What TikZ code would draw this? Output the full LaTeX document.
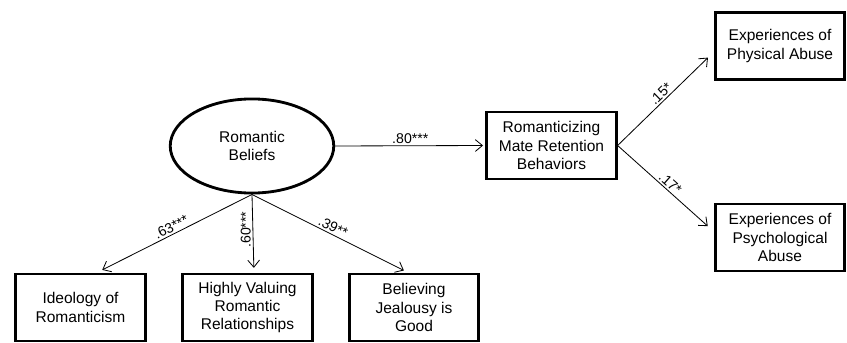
\documentclass[tikz,border=0pt]{standalone}
\usepackage{fontspec}
\setmainfont{Liberation Sans}
\usetikzlibrary{shapes.geometric,arrows.meta}

\tikzset{
  box/.style={draw,line width=2.4pt,minimum width=110pt,minimum height=57pt,inner sep=1pt,align=center,font=\fontsize{13.2}{15.6}\selectfont},
  latent/.style={draw,ellipse,line width=2.4pt,minimum width=139pt,minimum height=80pt,inner sep=0pt,align=center,font=\fontsize{13.2}{15.6}\selectfont},
  path/.style={-{Straight Barb[length=6pt,width=10pt]},line width=0.7pt},
  coef/.style={font=\fontsize{12}{13}\selectfont,inner sep=1.5pt}
}

\begin{document}
\begin{tikzpicture}[x=0.85pt,y=-0.85pt]
\useasboundingbox (0,0) rectangle (847,343);
% latent factor and indicators
\node[latent] (rb) at (252,146) {Romantic\\Beliefs};
\node[box] (ideo) at (80.5,307.5) {Ideology of\\Romanticism};
\node[box] (hv) at (247.5,307.5) {Highly Valuing\\Romantic\\Relationships};
\node[box] (bj) at (414,307.5) {Believing\\Jealousy is\\Good};
% mediator and outcomes
\node[box] (rmr) at (551.5,145.5) {Romanticizing\\Mate Retention\\Behaviors};
\node[box] (phys) at (780,46) {Experiences of\\Physical Abuse};
\node[box] (psych) at (780,237.5) {Experiences of\\Psychological\\Abuse};

\draw[path,shorten >=2pt] (rb.east) -- (rmr.west) node[coef,midway,above] {.80***};
\draw[path,shorten >=5pt] (rb.south) -- ([xshift=14pt]ideo.north) node[coef,midway,sloped,above] {.63***};
\draw[path,shorten >=4pt] (rb.south) -- ([xshift=5.5pt]hv.north) node[coef,pos=0.45,rotate=90,anchor=south] {.60***};
\draw[path,shorten >=4pt] (rb.south) -- ([xshift=-5pt]bj.north) node[coef,midway,sloped,above] {.39**};
\draw[path,shorten >=7pt] (rmr.east) -- ([yshift=-5pt]phys.west) node[coef,midway,sloped,above] {.15*};
\draw[path,shorten >=7pt] (rmr.east) -- ([yshift=5pt]psych.west) node[coef,midway,sloped,above] {.17*};
\end{tikzpicture}
\end{document}
